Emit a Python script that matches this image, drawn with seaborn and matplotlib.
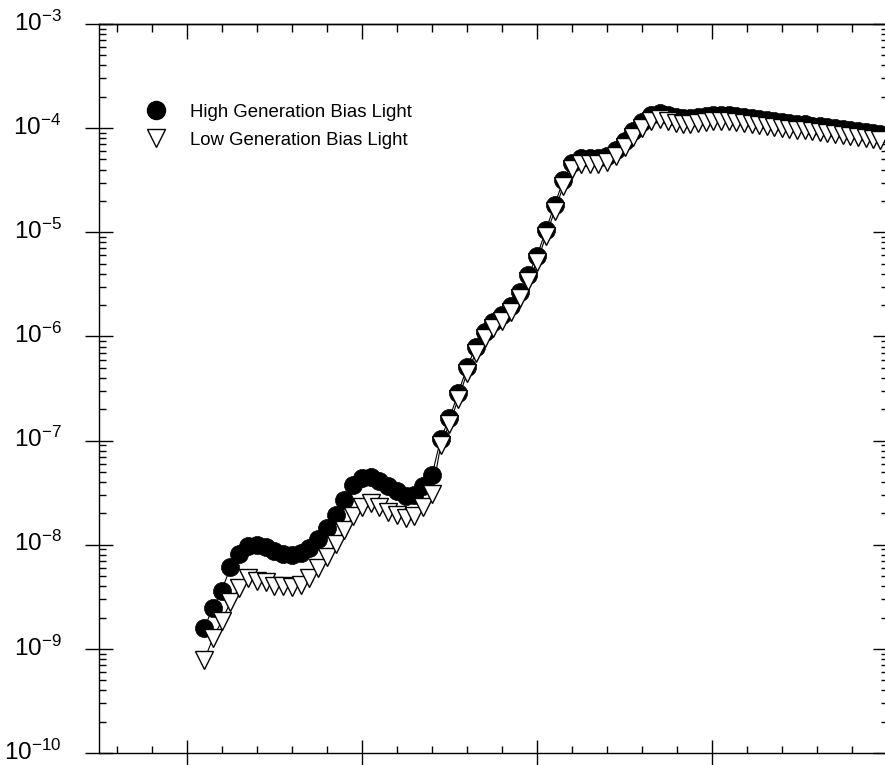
"""Spectral response under high and low generation bias light."""

import matplotlib

matplotlib.use("Agg")
import matplotlib.pyplot as plt
import seaborn as sns
from matplotlib.lines import Line2D
from matplotlib.ticker import LogLocator, MultipleLocator, NullFormatter
from matplotlib.transforms import ScaledTranslation


PHOTON_ENERGY = [
    1.22, 1.23, 1.24, 1.25, 1.26, 1.27, 1.28, 1.29, 1.30, 1.31,
    1.32, 1.33, 1.34, 1.35, 1.36, 1.37, 1.38, 1.39, 1.40, 1.41,
    1.42, 1.43, 1.44, 1.45, 1.46, 1.47, 1.48, 1.49, 1.50, 1.51,
    1.52, 1.53, 1.54, 1.55, 1.56, 1.57, 1.58, 1.59, 1.60, 1.61,
    1.62, 1.63, 1.64, 1.65, 1.66, 1.67, 1.68, 1.69, 1.70, 1.71,
    1.72, 1.73, 1.74, 1.749, 1.758, 1.767, 1.775, 1.784, 1.793, 1.801,
    1.810, 1.819, 1.827, 1.836, 1.845, 1.853, 1.862, 1.871, 1.879, 1.888,
    1.897, 1.906, 1.914, 1.923, 1.931, 1.940, 1.949, 1.957, 1.966, 1.975,
    1.983, 1.992,
]
HIGH_BIAS = [
    1.58e-9, 2.49e-9, 3.63e-9, 6.1e-9, 8.1e-9, 9.8e-9, 1.0e-8, 9.6e-9, 8.7e-9, 8.1e-9,
    7.96e-9, 8.4e-9, 9.3e-9, 1.14e-8, 1.45e-8, 1.93e-8, 2.69e-8, 3.74e-8, 4.33e-8, 4.47e-8,
    4.13e-8, 3.7e-8, 3.28e-8, 2.94e-8, 2.97e-8, 3.7e-8, 4.67e-8, 1.04e-7, 1.65e-7, 2.86e-7,
    5.08e-7, 7.9e-7, 1.10e-6, 1.38e-6, 1.61e-6, 1.96e-6, 2.67e-6, 3.89e-6, 5.92e-6, 1.05e-5,
    1.83e-5, 3.18e-5, 4.63e-5, 5.17e-5, 5.17e-5, 5.17e-5, 5.40e-5, 6.17e-5, 7.52e-5, 9.39e-5,
    1.15e-4, 1.34e-4, 1.40e-4, 1.34e-4, 1.28e-4, 1.25e-4, 1.25e-4, 1.28e-4, 1.31e-4, 1.34e-4,
    1.34e-4, 1.34e-4, 1.31e-4, 1.28e-4, 1.25e-4, 1.22e-4, 1.20e-4, 1.17e-4, 1.15e-4, 1.12e-4,
    1.10e-4, 1.09e-4, 1.06e-4, 1.04e-4, 1.03e-4, 1.00e-4, 9.8e-5, 9.6e-5, 9.4e-5, 9.2e-5,
    9.0e-5, 8.8e-5,
]
LOW_BIAS = [
    7.8e-10, 1.27e-9, 1.85e-9, 2.82e-9, 3.84e-9, 4.79e-9, 4.48e-9, 4.39e-9, 4.01e-9, 4.0e-9,
    3.93e-9, 4.1e-9, 4.79e-9, 5.97e-9, 7.62e-9, 1.02e-8, 1.38e-8, 1.89e-8, 2.30e-8, 2.51e-8,
    2.30e-8, 2.06e-8, 1.93e-8, 1.80e-8, 1.89e-8, 2.30e-8, 3.07e-8, 9.07e-8, 1.45e-7, 2.51e-7,
    4.45e-7, 6.93e-7, 9.6e-7, 1.21e-6, 1.41e-6, 1.72e-6, 2.34e-6, 3.41e-6, 5.19e-6, 9.2e-6,
    1.60e-5, 2.79e-5, 4.06e-5, 4.53e-5, 4.53e-5, 4.53e-5, 4.73e-5, 5.40e-5, 6.59e-5, 8.23e-5,
    1.01e-4, 1.17e-4, 1.23e-4, 1.17e-4, 1.12e-4, 1.10e-4, 1.10e-4, 1.12e-4, 1.15e-4, 1.17e-4,
    1.17e-4, 1.17e-4, 1.15e-4, 1.12e-4, 1.10e-4, 1.07e-4, 1.05e-4, 1.03e-4, 1.01e-4, 9.8e-5,
    9.6e-5, 9.5e-5, 9.3e-5, 9.1e-5, 9.0e-5, 8.8e-5, 8.6e-5, 8.4e-5, 8.2e-5, 8.1e-5,
    7.9e-5, 7.7e-5,
]
SERIES_LABELS = ["High Generation Bias Light", "Low Generation Bias Light"]
Y_DECADES = [-10, -9, -8, -7, -6, -5, -4, -3]


def style_ticks(ax, secondary_x, secondary_y):
    """Crossing ticks on the bottom/left, inward ticks on the top/right."""
    ax.tick_params(axis="x", which="major", direction="inout", length=19, width=1.0)
    ax.tick_params(axis="x", which="minor", direction="in", length=5, width=1.0)
    ax.tick_params(axis="y", which="major", direction="inout", length=20, width=1.0,
                   pad=17, labelsize=17.5, labelcolor="black")
    ax.tick_params(axis="y", which="minor", direction="in", length=5, width=1.0)

    secondary_x.xaxis.set_major_locator(MultipleLocator(0.2))
    secondary_x.xaxis.set_minor_locator(MultipleLocator(0.04))
    secondary_x.xaxis.set_major_formatter(NullFormatter())
    secondary_x.tick_params(which="major", direction="in", length=11, width=1.0)
    secondary_x.tick_params(which="minor", direction="in", length=6, width=1.0)

    secondary_y.yaxis.set_major_locator(LogLocator(base=10, numticks=20))
    secondary_y.yaxis.set_minor_locator(LogLocator(base=10, subs=range(2, 10), numticks=20))
    secondary_y.yaxis.set_major_formatter(NullFormatter())
    secondary_y.yaxis.set_minor_formatter(NullFormatter())
    secondary_y.tick_params(which="major", direction="in", length=11, width=1.0)
    secondary_y.tick_params(which="minor", direction="in", length=5, width=1.0)


def main():
    sns.set_theme(style="ticks")
    plt.rcParams["font.family"] = ["Liberation Sans", "DejaVu Sans"]
    plt.rcParams["mathtext.fontset"] = "custom"
    plt.rcParams["mathtext.rm"] = "Liberation Sans"
    plt.rcParams["mathtext.it"] = "Liberation Sans:italic"
    plt.rcParams["axes.linewidth"] = 1.0
    plt.rcParams["axes.edgecolor"] = "black"
    plt.rcParams["text.color"] = "black"
    plt.rcParams["xtick.color"] = "black"
    plt.rcParams["ytick.color"] = "black"

    figure = plt.figure(figsize=(8.85, 7.65), dpi=100)
    ax = figure.add_axes([99.1 / 885, 12 / 765, 788.4 / 885, 729 / 765])

    sns.lineplot(
        x=PHOTON_ENERGY, y=HIGH_BIAS, ax=ax, color="black", linewidth=0.8,
        marker="o", markersize=13, markerfacecolor="black",
        markeredgecolor="black", markeredgewidth=0.5,
        estimator=None, sort=False,
    )
    sns.lineplot(
        x=PHOTON_ENERGY, y=LOW_BIAS, ax=ax, color="black", linewidth=0.8,
        marker="v", markersize=13, markerfacecolor="white",
        markeredgecolor="black", markeredgewidth=1.0,
        estimator=None, sort=False,
    )

    ax.set_yscale("log")
    ax.set_xlim(1.1, 2.0)
    ax.set_ylim(1e-10, 1e-3)
    ax.xaxis.set_major_locator(MultipleLocator(0.2))
    ax.xaxis.set_minor_locator(MultipleLocator(0.04))
    ax.xaxis.set_major_formatter(NullFormatter())
    ax.set_yticks([10.0 ** k for k in Y_DECADES])
    ax.set_yticklabels([f"$10^{{{k}}}$" for k in Y_DECADES])
    ax.yaxis.set_minor_locator(LogLocator(base=10, subs=range(2, 10), numticks=20))
    ax.yaxis.set_minor_formatter(NullFormatter())
    ax.set_xlabel("")
    ax.set_ylabel("")
    for side in ["top", "right", "left", "bottom"]:
        ax.spines[side].set_visible(True)

    secondary_x = ax.secondary_xaxis("top")
    secondary_y = ax.secondary_yaxis("right")
    style_ticks(ax, secondary_x, secondary_y)

    # lift the decade labels a little so the digits sit on the tick
    lift = ScaledTranslation(0, 2.5 / 72, figure.dpi_scale_trans)
    for label in ax.get_yticklabels():
        label.set_transform(label.get_transform() + lift)

    handles = [
        Line2D([], [], linestyle="none", marker="o", markersize=13,
               markerfacecolor="black", markeredgecolor="black"),
        Line2D([], [], linestyle="none", marker="v", markersize=13,
               markerfacecolor="white", markeredgecolor="black", markeredgewidth=1.0),
    ]
    ax.legend(
        handles, SERIES_LABELS, loc="upper left", bbox_to_anchor=(0.0486, 0.8907),
        frameon=False, fontsize=13.4, borderpad=0, borderaxespad=0,
        handlelength=2.0, handletextpad=0.83, labelspacing=0.6,
    )

    figure.savefig("out.png", dpi=100)
    plt.close(figure)


if __name__ == "__main__":
    main()
